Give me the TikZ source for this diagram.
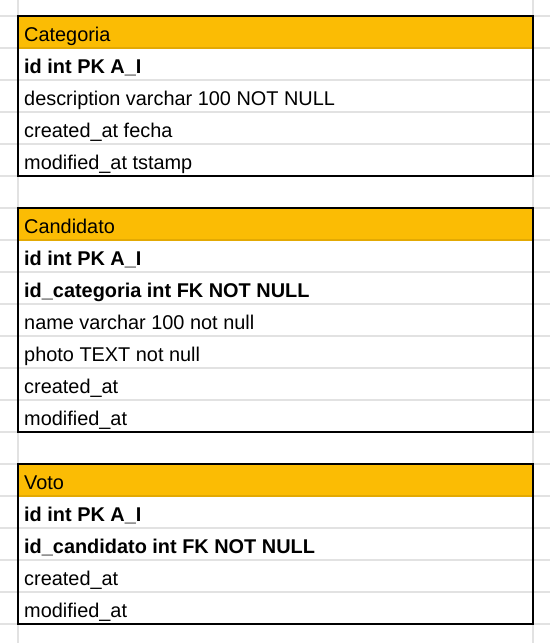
\documentclass[tikz,border=0pt]{standalone}
\usepackage{fontspec}
\setmainfont{Liberation Sans}
\definecolor{hdr}{HTML}{FBBC04}
\definecolor{gridc}{HTML}{E2E2E2}
\definecolor{hdrline}{HTML}{E3A903}
\begin{document}
\begin{tikzpicture}[x=1pt,y=-1pt,
  cell/.style={anchor=base west, inner sep=0pt, font=\fontsize{19.9}{23}\selectfont},
  bcell/.style={anchor=base west, inner sep=0pt, font=\fontsize{19.9}{23}\selectfont\bfseries},
  gridline/.style={draw=gridc, line width=1.5pt},
  tborder/.style={draw=black, line width=2pt}]
\useasboundingbox (0,0) rectangle (550,643);
\fill[white] (0,0) rectangle (550,643);
% spreadsheet grid
\foreach \i in {0,...,19} \draw[gridline] (0,16+32*\i) -- (550,16+32*\i);
\draw[gridline] (18,0) -- (18,643);
\draw[gridline] (533,0) -- (533,643);
% header fills
\fill[hdr] (18,16) rectangle (533,48);
\draw[hdrline, line width=1.5pt] (18,48) -- (533,48);
\fill[hdr] (18,208) rectangle (533,240);
\draw[hdrline, line width=1.5pt] (18,240) -- (533,240);
\fill[hdr] (18,464) rectangle (533,496);
\draw[hdrline, line width=1.5pt] (18,496) -- (533,496);
% table borders
\draw[tborder] (18,16) rectangle (533,176);
\draw[tborder] (18,208) rectangle (533,432);
\draw[tborder] (18,464) rectangle (533,624);
% Categoria
\node[cell] (c0) at (24,41) {Categoria};
\node[bcell] (c1) at (24,73) {id int PK A\_I};
\node[cell] (c2) at (24,105) {description varchar 100 NOT NULL};
\node[cell] (c3) at (24,137) {created\_at fecha};
\node[cell] (c4) at (24,169) {modified\_at tstamp};
% Candidato
\node[cell] (d0) at (24,233) {Candidato};
\node[bcell] (d1) at (24,265) {id int PK A\_I};
\node[bcell] (d2) at (24,297) {id\_categoria int FK NOT NULL};
\node[cell] (d3) at (24,329) {name varchar 100 not null};
\node[cell] (d4) at (24,361) {photo TEXT not null};
\node[cell] (d5) at (24,393) {created\_at};
\node[cell] (d6) at (24,425) {modified\_at};
% Voto
\node[cell] (v0) at (24,489) {Voto};
\node[bcell] (v1) at (24,521) {id int PK A\_I};
\node[bcell] (v2) at (24,553) {id\_candidato int FK NOT NULL};
\node[cell] (v3) at (24,585) {created\_at};
\node[cell] (v4) at (24,617) {modified\_at};
\end{tikzpicture}
\end{document}
